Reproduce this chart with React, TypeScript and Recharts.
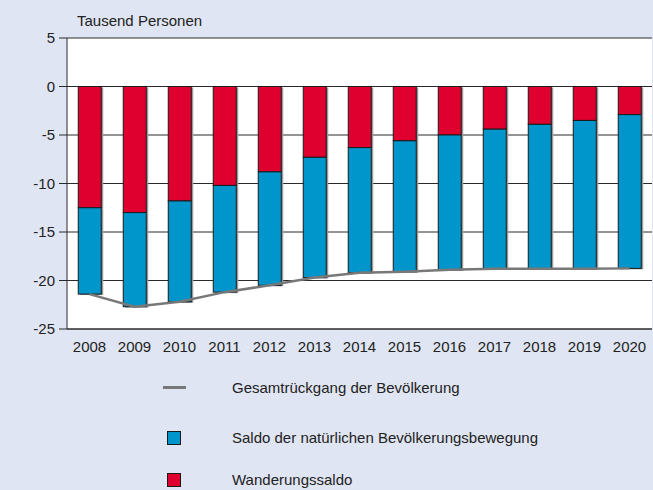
import React from "react";
import { ComposedChart, Bar, Line, XAxis, YAxis, CartesianGrid } from "recharts";

const years = ["2008", "2009", "2010", "2011", "2012", "2013", "2014", "2015", "2016", "2017", "2018", "2019", "2020"];
const wanderungssaldo = [-12.5, -13.0, -11.8, -10.2, -8.8, -7.3, -6.3, -5.6, -5.0, -4.4, -3.9, -3.5, -2.9];
const natuerlicherSaldo = [-8.9, -9.7, -10.4, -11.0, -11.7, -12.4, -12.9, -13.5, -13.9, -14.4, -14.9, -15.3, -15.85];
const gesamtrueckgang = [-21.4, -22.7, -22.2, -21.2, -20.5, -19.7, -19.2, -19.1, -18.9, -18.8, -18.8, -18.8, -18.75];
const yTicks = [5, 0, -5, -10, -15, -20, -25];

const RED = "#e0002f";
const BLUE = "#0096cc";
const BG = "#dfe5f2";
const FONT = "'Liberation Sans', Arial, Helvetica, sans-serif";

const data = years.map((y, i) => ({
  year: y,
  wanderung: wanderungssaldo[i],
  natur: natuerlicherSaldo[i],
  total: gesamtrueckgang[i],
}));

const ShadowBar = (props: any) => {
  const { x, y, width, height, fill } = props;
  if (width == null || height == null) return null;
  const top = Math.min(y, y + height);
  const h = Math.abs(height);
  return (
    <g>
      <rect x={x + 2} y={top + 1} width={width} height={h} fill="#9a9a9a" />
      <rect x={x} y={top} width={width} height={h} fill={fill} stroke="#1a1a1a" strokeWidth={1} />
    </g>
  );
};

export default function App() {
  return (
    <div
      style={{
        position: "absolute",
        left: 0,
        top: 0,
        width: 653,
        height: 490,
        background: BG,
        fontFamily: FONT,
        color: "#222",
      }}
    >
      <div style={{ position: "absolute", left: 77, top: 11, fontSize: 15, lineHeight: "20px" }}>Tausend Personen</div>
      <ComposedChart
        width={653}
        height={490}
        data={data}
        margin={{ top: 38, right: 1, left: 0, bottom: 131 }}
        barCategoryGap="25%"
      >
        <CartesianGrid vertical={false} stroke="#2a2a2a" fill="#ffffff" strokeOpacity={1} />
        <XAxis
          dataKey="year"
          height={30}
          tickLine={false}
          tickSize={6}
          tickMargin={6}
          axisLine={{ stroke: "#2a2a2a" }}
          tick={{ fill: "#222", fontSize: 15, fontFamily: FONT }}
          interval={0}
        />
        <YAxis
          domain={[-25, 5]}
          ticks={yTicks}
          width={67}
          tickSize={8}
          tickMargin={4}
          interval={0}
          axisLine={{ stroke: "#2a2a2a" }}
          tickLine={{ stroke: "#2a2a2a" }}
          tick={{ fill: "#222", fontSize: 15, fontFamily: FONT }}
        />
        <YAxis
          yAxisId="r"
          orientation="right"
          width={0}
          tick={false}
          tickLine={false}
          axisLine={{ stroke: "#2a2a2a" }}
        />
        <Bar dataKey="wanderung" stackId="a" fill={RED} shape={<ShadowBar />} isAnimationActive={false} />
        <Bar dataKey="natur" stackId="a" fill={BLUE} shape={<ShadowBar />} isAnimationActive={false} />
        <Line
          dataKey="total"
          stroke="#787878"
          strokeWidth={2.5}
          dot={false}
          activeDot={false}
          isAnimationActive={false}
          type="linear"
        />
      </ComposedChart>
      <div style={{ position: "absolute", left: 163, top: 386, width: 23, height: 3, background: "#787878" }} />
      <div style={{ position: "absolute", left: 232, top: 378, fontSize: 15, lineHeight: "20px" }}>
        Gesamtrückgang der Bevölkerung
      </div>
      <div
        style={{
          position: "absolute",
          left: 167,
          top: 431,
          width: 12,
          height: 12,
          background: BLUE,
          border: "1px solid #1a1a1a",
        }}
      />
      <div style={{ position: "absolute", left: 232, top: 428, fontSize: 15, lineHeight: "20px" }}>
        Saldo der natürlichen Bevölkerungsbewegung
      </div>
      <div
        style={{
          position: "absolute",
          left: 167,
          top: 473,
          width: 12,
          height: 12,
          background: RED,
          border: "1px solid #1a1a1a",
        }}
      />
      <div style={{ position: "absolute", left: 232, top: 470, fontSize: 15, lineHeight: "20px" }}>
        Wanderungssaldo
      </div>
    </div>
  );
}
